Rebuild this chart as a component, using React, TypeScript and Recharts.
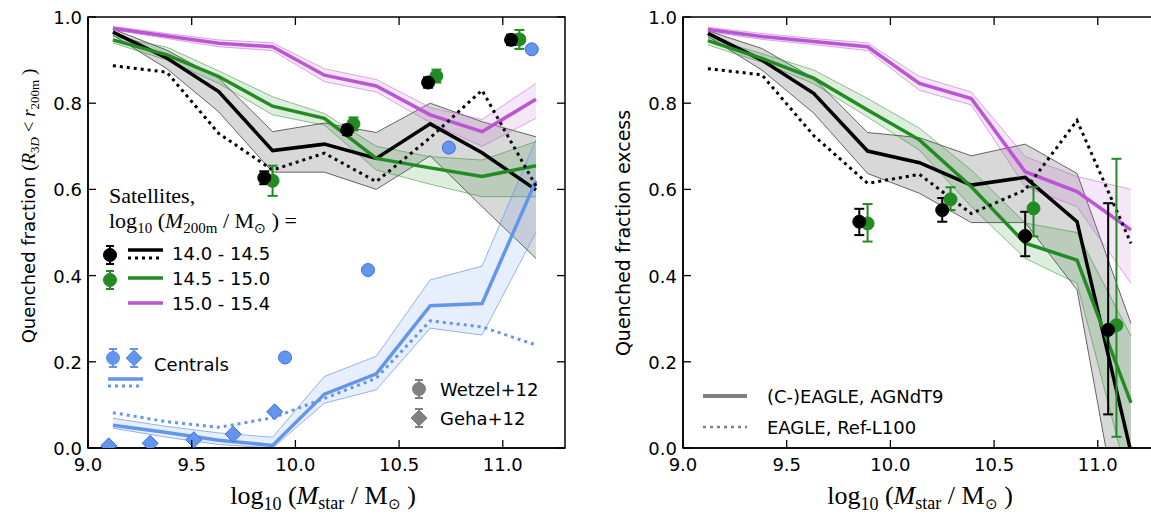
import React from 'react';
import { Area, ComposedChart, ErrorBar, Line, ReferenceArea, Scatter, XAxis, YAxis } from 'recharts';

// stellar mass bin centres shared by every simulation curve
const MASS_BINS = [9.12, 9.38, 9.63, 9.89, 10.14, 10.39, 10.65, 10.9, 11.16];
const X_TICKS = [9, 9.5, 10, 10.5, 11];
const Y_TICKS = [0, 0.2, 0.4, 0.6, 0.8, 1.0];
const X_DOMAIN = [9, 11.3];

// left panel: quenched fraction of satellites, by halo mass
const SAT_LOW = [0.965, 0.905, 0.827, 0.69, 0.705, 0.672, 0.752, 0.685, 0.599];
const SAT_LOW_HI = [0.972, 0.923, 0.858, 0.734, 0.754, 0.732, 0.8, 0.757, 0.722];
const SAT_LOW_LO = [0.958, 0.88, 0.78, 0.64, 0.64, 0.6, 0.678, 0.56, 0.44];
const SAT_LOW_REF = [0.887, 0.872, 0.73, 0.645, 0.684, 0.618, 0.72, 0.83, 0.608];
const SAT_MID = [0.947, 0.912, 0.862, 0.793, 0.765, 0.672, 0.65, 0.63, 0.655];
const SAT_MID_HI = [0.955, 0.93, 0.875, 0.815, 0.776, 0.7, 0.676, 0.668, 0.711];
const SAT_MID_LO = [0.94, 0.9, 0.846, 0.773, 0.749, 0.645, 0.612, 0.583, 0.583];
const SAT_HIGH = [0.974, 0.956, 0.939, 0.931, 0.865, 0.84, 0.773, 0.734, 0.809];
const SAT_HIGH_HI = [0.978, 0.962, 0.947, 0.94, 0.88, 0.855, 0.79, 0.762, 0.846];
const SAT_HIGH_LO = [0.97, 0.95, 0.931, 0.922, 0.85, 0.826, 0.755, 0.7, 0.765];
const CEN = [0.053, 0.036, 0.018, 0.006, 0.125, 0.172, 0.33, 0.335, 0.62];
const CEN_HI = [0.069, 0.05, 0.035, 0.025, 0.166, 0.213, 0.39, 0.422, 0.715];
const CEN_LO = [0.046, 0.025, 0.008, 0.0, 0.104, 0.135, 0.278, 0.262, 0.5];
const CEN_REF = [0.082, 0.061, 0.048, 0.07, 0.115, 0.162, 0.295, 0.281, 0.239];

// left panel observations (Wetzel+12, Geha+12)
const W12_LOW_X = [9.85, 10.25, 10.64, 11.04];
const W12_LOW_Y = [0.627, 0.738, 0.848, 0.947];
const W12_LOW_ERR = [0.015, 0.012, 0.012, 0.012];
const W12_MID_X = [9.89, 10.28, 10.68, 11.08];
const W12_MID_Y = [0.62, 0.752, 0.863, 0.948];
const W12_MID_ERR = [0.035, 0.015, 0.015, 0.022];
const W12_CEN_X = [9.95, 10.35, 10.74, 11.14];
const W12_CEN_Y = [0.21, 0.413, 0.697, 0.925];
const G12_CEN_X = [9.1, 9.3, 9.51, 9.7, 9.9];
const G12_CEN_Y = [0.005, 0.011, 0.019, 0.032, 0.084];

// right panel: quenched fraction excess
const EXC_LOW = [0.962, 0.9, 0.823, 0.689, 0.662, 0.61, 0.628, 0.525, -0.01];
const EXC_LOW_HI = [0.968, 0.927, 0.858, 0.732, 0.72, 0.678, 0.705, 0.637, 0.289];
const EXC_LOW_LO = [0.955, 0.877, 0.777, 0.637, 0.591, 0.523, 0.523, 0.367, -0.32];
const EXC_LOW_REF = [0.88, 0.866, 0.725, 0.614, 0.635, 0.544, 0.599, 0.76, 0.475];
const EXC_MID = [0.945, 0.904, 0.858, 0.784, 0.715, 0.606, 0.475, 0.436, 0.105];
const EXC_MID_HI = [0.952, 0.915, 0.877, 0.811, 0.742, 0.645, 0.522, 0.5, 0.26];
const EXC_MID_LO = [0.935, 0.895, 0.845, 0.768, 0.691, 0.56, 0.44, 0.382, -0.1];
const EXC_HIGH = [0.971, 0.955, 0.943, 0.931, 0.846, 0.811, 0.641, 0.595, 0.506];
const EXC_HIGH_HI = [0.976, 0.962, 0.95, 0.94, 0.862, 0.826, 0.676, 0.63, 0.6];
const EXC_HIGH_LO = [0.966, 0.948, 0.936, 0.922, 0.83, 0.796, 0.606, 0.56, 0.382];

const EXC_OBS_LOW_X = [9.85, 10.25, 10.65, 11.05];
const EXC_OBS_LOW_Y = [0.525, 0.552, 0.492, 0.274];
const EXC_OBS_LOW_ERR_DN = [0.031, 0.027, 0.047, 0.196];
const EXC_OBS_LOW_ERR_UP = [0.03, 0.028, 0.056, 0.294];
const EXC_OBS_MID_X = [9.89, 10.29, 10.69, 11.09];
const EXC_OBS_MID_Y = [0.521, 0.577, 0.556, 0.285];
const EXC_OBS_MID_ERR_DN = [0.042, 0.025, 0.065, 0.259];
const EXC_OBS_MID_ERR_UP = [0.045, 0.028, 0.05, 0.386];

const BLACK = '#000000';
const GREEN = '#228b22';
const ORCHID = '#ba55d3';
const BLUE = '#6495ed';
const GREY = '#808080';

const SANS = '"DejaVu Sans", sans-serif';
const SERIF = '"Liberation Serif", serif';

// panel geometry
const CHART_W = 575;
const CHART_H = 515;
const MARGIN = { top: 17, right: 10, bottom: 0, left: 0 };
const Y_AXIS_W = 88;
const X_AXIS_H = 67;
const PLOT_TOP = MARGIN.top;
const PLOT_W = CHART_W - Y_AXIS_W - MARGIN.right;

const curveRows = (ys: number[], lo?: number[], hi?: number[]) =>
  MASS_BINS.map((x, i) => ({ x, y: ys[i], band: lo && hi ? [lo[i], hi[i]] : undefined }));

const obsRows = (xs: number[], ys: number[], dn?: number[], up?: number[]) =>
  xs.map((x, i) => ({ x, y: ys[i], err: dn ? [dn[i], (up ?? dn)[i]] : undefined }));

type Curve = { rows: any[]; color: string; dotted?: boolean; band?: { fill: string; fillOpacity: number; edge: string; edgeOpacity: number } };
type Obs = { rows: any[]; color: string; edge?: string; shape: 'circle' | 'diamond'; err?: boolean };

const bandStyle = (c: string, fo = 0.15, eo = 0.5) => ({ fill: c, fillOpacity: fo, edge: c, edgeOpacity: eo });
const GREY_BAND = { fill: '#7f7f7f', fillOpacity: 0.3, edge: '#555', edgeOpacity: 0.9 };

const LEFT_CURVES: Curve[] = [
  { rows: curveRows(SAT_LOW, SAT_LOW_LO, SAT_LOW_HI), color: BLACK, band: GREY_BAND },
  { rows: curveRows(SAT_MID, SAT_MID_LO, SAT_MID_HI), color: GREEN, band: bandStyle(GREEN) },
  { rows: curveRows(SAT_HIGH, SAT_HIGH_LO, SAT_HIGH_HI), color: ORCHID, band: bandStyle(ORCHID) },
  { rows: curveRows(CEN, CEN_LO, CEN_HI), color: BLUE, band: bandStyle(BLUE, 0.15, 0.7) },
  { rows: curveRows(SAT_LOW_REF), color: BLACK, dotted: true },
  { rows: curveRows(CEN_REF), color: BLUE, dotted: true },
];

const LEFT_OBS: Obs[] = [
  { rows: obsRows(W12_MID_X, W12_MID_Y, W12_MID_ERR), color: GREEN, shape: 'circle', err: true },
  { rows: obsRows(W12_LOW_X, W12_LOW_Y, W12_LOW_ERR), color: BLACK, shape: 'circle', err: true },
  { rows: obsRows(W12_CEN_X, W12_CEN_Y), color: BLUE, edge: '#3d6fdc', shape: 'circle' },
  { rows: obsRows(G12_CEN_X, G12_CEN_Y), color: BLUE, edge: '#3d6fdc', shape: 'diamond' },
];

const RIGHT_CURVES: Curve[] = [
  { rows: curveRows(EXC_LOW, EXC_LOW_LO, EXC_LOW_HI), color: BLACK, band: GREY_BAND },
  { rows: curveRows(EXC_MID, EXC_MID_LO, EXC_MID_HI), color: GREEN, band: bandStyle(GREEN) },
  { rows: curveRows(EXC_HIGH, EXC_HIGH_LO, EXC_HIGH_HI), color: ORCHID, band: bandStyle(ORCHID) },
  { rows: curveRows(EXC_LOW_REF), color: BLACK, dotted: true },
];

const RIGHT_OBS: Obs[] = [
  { rows: obsRows(EXC_OBS_MID_X, EXC_OBS_MID_Y, EXC_OBS_MID_ERR_DN, EXC_OBS_MID_ERR_UP), color: GREEN, shape: 'circle', err: true },
  { rows: obsRows(EXC_OBS_LOW_X, EXC_OBS_LOW_Y, EXC_OBS_LOW_ERR_DN, EXC_OBS_LOW_ERR_UP), color: BLACK, shape: 'circle', err: true },
];

// ticks point inwards on all four sides, matplotlib style
const TICK_LEN = 8;
const tickText = { fontFamily: SANS, fontSize: 18, fill: '#000' };

const BottomTick = ({ x, y, payload }: any) => (
  <g stroke="#000" strokeWidth={1.3}>
    <line x1={x} y1={y} x2={x} y2={y - TICK_LEN} />
    <line x1={x} y1={PLOT_TOP} x2={x} y2={PLOT_TOP + TICK_LEN} />
    <text x={x} y={y + 23} textAnchor="middle" stroke="none" {...tickText}>{payload.value.toFixed(1)}</text>
  </g>
);
const LeftTick = ({ x, y, payload }: any) => (
  <g stroke="#000" strokeWidth={1.3}>
    <line x1={x} y1={y} x2={x + TICK_LEN} y2={y} />
    <line x1={x + PLOT_W} y1={y} x2={x + PLOT_W - TICK_LEN} y2={y} />
    <text x={x - 6} y={y + 7} textAnchor="end" stroke="none" {...tickText}>{payload.value.toFixed(1)}</text>
  </g>
);

const circleShape = (fill: string, edge?: string) => (p: any) => (
  <circle cx={p.cx} cy={p.cy} r={6.5} fill={fill} stroke={edge ?? fill} strokeWidth={1} />
);
const diamondShape = (fill: string, edge?: string) => (p: any) => (
  <polygon
    points={`${p.cx},${p.cy - 8} ${p.cx + 8},${p.cy} ${p.cx},${p.cy + 8} ${p.cx - 8},${p.cy}`}
    fill={fill}
    stroke={edge ?? fill}
    strokeWidth={1}
  />
);

const axisLine = { stroke: '#000', strokeWidth: 1.5 };

function Panel({ left, curves, obs }: { left: number; curves: Curve[]; obs: Obs[] }) {
  return (
    <div style={{ position: 'absolute', left, top: 0 }}>
      <ComposedChart width={CHART_W} height={CHART_H} margin={MARGIN}>
        <XAxis dataKey="x" type="number" domain={X_DOMAIN} ticks={X_TICKS} interval={0} allowDataOverflow
          height={X_AXIS_H} tickSize={0} tickMargin={0} tickLine={false} tick={<BottomTick />} axisLine={axisLine} />
        <YAxis type="number" domain={[0, 1]} ticks={Y_TICKS} interval={0} allowDataOverflow width={Y_AXIS_W}
          tickSize={0} tickMargin={0} tickLine={false} tick={<LeftTick />} axisLine={axisLine} />
        {curves.filter((c) => c.band).map((c, i) => (
          <Area key={`band-${i}`} data={c.rows} dataKey="band" type="linear" isAnimationActive={false}
            fill={c.band!.fill} fillOpacity={c.band!.fillOpacity} stroke={c.band!.edge} strokeOpacity={c.band!.edgeOpacity}
            strokeWidth={1} dot={false} activeDot={false} />
        ))}
        {curves.map((c, i) => (
          <Line key={`line-${i}`} data={c.rows} dataKey="y" type="linear" isAnimationActive={false}
            stroke={c.color} strokeWidth={c.dotted ? 3 : 3.5} strokeDasharray={c.dotted ? '3 4' : undefined}
            dot={false} activeDot={false} />
        ))}
        {obs.map((o, i) => (
          <Scatter key={`obs-${i}`} data={o.rows} dataKey="y" isAnimationActive={false} fill={o.color}
            shape={o.shape === 'diamond' ? diamondShape(o.color, o.edge) : circleShape(o.color, o.edge)}>
            {o.err && <ErrorBar dataKey="err" direction="y" width={5} stroke={o.color} strokeWidth={2} />}
          </Scatter>
        ))}
        {/* axes frame */}
        <ReferenceArea x1={X_DOMAIN[0]} x2={X_DOMAIN[1]} y1={0} y2={1} fill="none" stroke="#000" strokeWidth={1.5}
          ifOverflow="visible" />
      </ComposedChart>
    </div>
  );
}

// legend glyph: marker with a small error bar
function ErrGlyph({ x, y, color, diamond }: { x: number; y: number; color: string; diamond?: boolean }) {
  return (
    <g stroke={color} strokeWidth={2}>
      <line x1={x} y1={y - 9} x2={x} y2={y + 9} />
      <line x1={x - 4} y1={y - 9} x2={x + 4} y2={y - 9} />
      <line x1={x - 4} y1={y + 9} x2={x + 4} y2={y + 9} />
      {diamond ? (
        <polygon points={`${x},${y - 8} ${x + 8},${y} ${x},${y + 8} ${x - 8},${y}`} fill={color} strokeWidth={1} />
      ) : (
        <circle cx={x} cy={y} r={6.5} fill={color} strokeWidth={1} />
      )}
    </g>
  );
}

const XLabel = ({ cx }: { cx: number }) => (
  <text x={cx} y={504} textAnchor="middle" fontFamily={SERIF} fontSize={26}>
    log<tspan fontSize={18} dy={6}>10</tspan>
    <tspan dy={-6}> (</tspan>
    <tspan fontStyle="italic">M</tspan>
    <tspan fontSize={18} dy={5}>star</tspan>
    <tspan dy={-5}> / M</tspan>
    <tspan fontSize={15} dy={5}>⊙</tspan>
    <tspan dy={-5}> )</tspan>
  </text>
);

function Overlay() {
  const legendText = { fontFamily: SANS, fontSize: 18 };
  return (
    <svg width={1151} height={515} style={{ position: 'absolute', left: 0, top: 0, pointerEvents: 'none' }}>
      {/* y labels */}
      <text transform="translate(35,206) rotate(-90)" textAnchor="middle" fontSize={18}>
        <tspan fontFamily={SANS}>Quenched fraction </tspan>
        <tspan fontFamily={SERIF} fontSize={19}>(</tspan>
        <tspan fontFamily={SERIF} fontSize={19} fontStyle="italic">R</tspan>
        <tspan fontFamily={SERIF} fontSize={13} dy={4}>3</tspan>
        <tspan fontFamily={SERIF} fontSize={13} fontStyle="italic">D</tspan>
        <tspan fontFamily={SERIF} fontSize={19} dy={-4}> &lt; </tspan>
        <tspan fontFamily={SERIF} fontSize={19} fontStyle="italic">r</tspan>
        <tspan fontFamily={SERIF} fontSize={13} dy={4}>200m</tspan>
        <tspan fontFamily={SERIF} fontSize={19} dy={-4}> )</tspan>
      </text>
      <text transform="translate(630,233) rotate(-90)" textAnchor="middle" fontFamily={SANS} fontSize={19}>
        Quenched fraction excess
      </text>
      <XLabel cx={323} />
      <XLabel cx={920} />

      {/* left legend: satellites */}
      <text x={109} y={203} fontFamily={SERIF} fontSize={22}>Satellites,</text>
      <text x={109} y={228} fontFamily={SERIF} fontSize={22}>
        log<tspan fontSize={15} dy={5}>10</tspan>
        <tspan dy={-5}> (</tspan>
        <tspan fontStyle="italic">M</tspan>
        <tspan fontSize={15} dy={5}>200m</tspan>
        <tspan dy={-5}> / M</tspan>
        <tspan fontSize={14} dy={5}>⊙</tspan>
        <tspan dy={-5}> ) =</tspan>
      </text>
      <ErrGlyph x={110} y={255} color={BLACK} />
      <line x1={128} y1={250} x2={163} y2={250} stroke={BLACK} strokeWidth={3.5} />
      <line x1={128} y1={258} x2={163} y2={258} stroke={BLACK} strokeWidth={3} strokeDasharray="3 4" />
      <text x={172} y={260} {...legendText}>14.0 - 14.5</text>
      <ErrGlyph x={110} y={280} color={GREEN} />
      <line x1={128} y1={278} x2={163} y2={278} stroke={GREEN} strokeWidth={3.5} />
      <text x={172} y={285} {...legendText}>14.5 - 15.0</text>
      <line x1={128} y1={303} x2={163} y2={303} stroke={ORCHID} strokeWidth={3.5} />
      <text x={172} y={310} {...legendText}>15.0 - 15.4</text>

      {/* left legend: centrals */}
      <ErrGlyph x={113} y={358} color={BLUE} />
      <ErrGlyph x={134} y={358} color={BLUE} diamond />
      <line x1={108} y1={379} x2={143} y2={379} stroke={BLUE} strokeWidth={3.5} />
      <line x1={108} y1={386} x2={143} y2={386} stroke={BLUE} strokeWidth={3} strokeDasharray="3 4" />
      <text x={154} y={371} {...legendText}>Centrals</text>

      {/* left legend: observations */}
      <ErrGlyph x={419} y={389} color={GREY} />
      <text x={440} y={396} {...legendText}>Wetzel+12</text>
      <ErrGlyph x={419} y={418} color={GREY} diamond />
      <text x={440} y={425} {...legendText}>Geha+12</text>

      {/* right legend: simulations */}
      <line x1={703} y1={396} x2={747} y2={396} stroke={GREY} strokeWidth={4} />
      <text x={767} y={403} {...legendText}>(C-)EAGLE, AGNdT9</text>
      <line x1={703} y1={427} x2={747} y2={427} stroke={GREY} strokeWidth={2.5} strokeDasharray="3 4" />
      <text x={767} y={434} {...legendText}>EAGLE, Ref-L100</text>
    </svg>
  );
}

export default function App() {
  return (
    <div style={{ position: 'absolute', left: 0, top: 0, width: 1151, height: 515, overflow: 'hidden', background: '#fff' }}>
      <Panel left={0} curves={LEFT_CURVES} obs={LEFT_OBS} />
      <Panel left={595} curves={RIGHT_CURVES} obs={RIGHT_OBS} />
      <Overlay />
    </div>
  );
}
